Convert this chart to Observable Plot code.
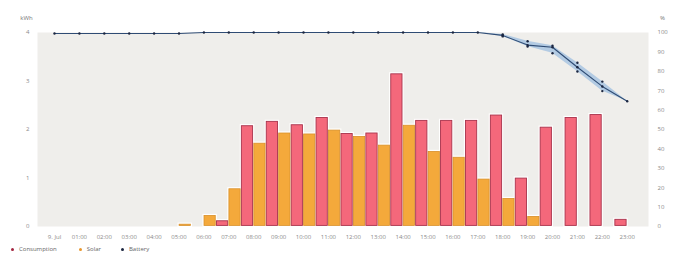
<!DOCTYPE html>
<html>
<head>
<meta charset="utf-8">
<script src="https://cdn.jsdelivr.net/npm/d3@7"></script>
<script src="https://cdn.jsdelivr.net/npm/@observablehq/plot@0.6"></script>
<style>
  html, body { margin: 0; padding: 0; background: #fff; }
  body { width: 681px; height: 254px; overflow: hidden; font-family: "Open Sans", "DejaVu Sans", sans-serif; }
  #legend { height: 10px; display: flex; align-items: center; font-size: 6px; color: #666; padding-left: 11px; }
  #legend span.item { display: inline-flex; align-items: center; }
  #legend span.dot { width: 3px; height: 3px; border-radius: 50%; display: inline-block; margin-right: 5px; }
</style>
</head>
<body>
<div id="chart"></div>
<div id="legend"></div>
<script>
const hours = d3.range(24);
const tickLabels = ["9. Jul","01:00","02:00","03:00","04:00","05:00","06:00","07:00","08:00","09:00","10:00","11:00","12:00","13:00","14:00","15:00","16:00","17:00","18:00","19:00","20:00","21:00","22:00","23:00"];
const consumption = [0,0,0,0,0,0,0,0.12,2.08,2.17,2.10,2.25,1.92,1.93,3.15,2.19,2.19,2.19,2.30,1.00,2.05,2.25,2.31,0.15];
const solar = [0,0,0,0,0,0.05,0.23,0.78,1.72,1.93,1.91,1.99,1.86,1.68,2.09,1.55,1.43,0.98,0.58,0.21,0,0,0,0];
const batteryAvg = [99.5,99.5,99.5,99.5,99.5,99.5,100,100,100,100,100,100,100,100,100,100,100,100,98.5,93.5,92.4,82.1,72.2,64.6];
const batteryMax = [99.5,99.5,99.5,99.5,99.5,99.5,100,100,100,100,100,100,100,100,100,100,100,100,99,95.5,93.2,84.4,74.7,64.6];
const batteryMin = [99.5,99.5,99.5,99.5,99.5,99.5,100,100,100,100,100,100,100,100,100,100,100,100,98,92.8,89.3,79.9,69.8,64.6];
const seriesNames = ["Consumption","Solar","Battery"];
const seriesColors = ["#a3243f","#e8962c","#1b2640"];

const consRows = hours.map(h => ({h, v: consumption[h]})).filter(d => d.v > 0);
const solarRows = hours.map(h => ({h, v: solar[h]})).filter(d => d.v > 0);
const batRows = hours.map(h => ({h, avg: batteryAvg[h], min: batteryMin[h], max: batteryMax[h]}));
const batDots = [];
batRows.forEach(d => {
  batDots.push({h: d.h, p: d.avg});
  if (d.min !== d.avg) batDots.push({h: d.h, p: d.min});
  if (d.max !== d.avg) batDots.push({h: d.h, p: d.max});
});
const pct = p => p * 4 / 100;

const plot = Plot.plot({
  width: 681,
  height: 244,
  marginLeft: 37,
  marginRight: 33,
  marginTop: 32,
  marginBottom: 18,
  style: {fontFamily: "'Open Sans', 'DejaVu Sans', sans-serif", background: "white", overflow: "visible"},
  x: {type: "linear", domain: [-0.683, 23.855]},
  y: {domain: [0, 4]},
  marks: [
    Plot.frame({fill: "#efeeeb", stroke: null}),
    Plot.rectY(consRows, {x1: d => d.h - 0.5, x2: d => d.h, y1: 0, y2: "v", fill: "white", stroke: "white", strokeWidth: 2}),
    Plot.rectY(solarRows, {x1: d => d.h, x2: d => d.h + 0.5, y1: 0, y2: "v", fill: "white", stroke: "white", strokeWidth: 2}),
    Plot.rectY(consRows, {x1: d => d.h - 0.5, x2: d => d.h, y1: 0, y2: "v", fill: "#f4687b", stroke: "#a8324b", strokeWidth: 0.9, inset: 0.6}),
    Plot.rectY(solarRows, {x1: d => d.h, x2: d => d.h + 0.5, y1: 0, y2: "v", fill: "#f4a93b", stroke: "#d9902a", strokeWidth: 0.8, inset: 0.6}),
    Plot.areaY(batRows, {x: "h", y1: d => pct(d.min), y2: d => pct(d.max), fill: "#9fbfe0", fillOpacity: 0.75, curve: "linear"}),
    Plot.lineY(batRows, {x: "h", y: d => pct(d.avg), stroke: "#2f4c74", strokeWidth: 1.1}),
    Plot.dot(batDots, {x: "h", y: d => pct(d.p), r: 1.2, fill: "#1b2640", stroke: null}),
    Plot.axisX({ticks: hours, tickFormat: i => tickLabels[i], tickSize: 0, tickPadding: 8, fontSize: 6, fill: "#8a8a8a", label: null}),
    Plot.axisY({ticks: [0,1,2,3,4], tickFormat: d => d, tickSize: 0, tickPadding: 8, fontSize: 6, fill: "#8a8a8a", label: null}),
    Plot.axisY({anchor: "right", ticks: d3.range(0, 101, 10).map(pct), tickFormat: d => Math.round(d * 25), tickSize: 0, tickPadding: 9, fontSize: 6, fill: "#8a8a8a", label: null}),
    Plot.text(["kWh"], {frameAnchor: "top-left", dx: -11, dy: -17, text: d => d, fontSize: 6, fill: "#777", textAnchor: "middle"}),
    Plot.text(["%"], {frameAnchor: "top-right", dx: 14, dy: -17, text: d => d, fontSize: 6, fill: "#777", textAnchor: "middle"})
  ]
});
document.getElementById("chart").appendChild(plot);

const legend = document.getElementById("legend");
const gaps = [22, 20, 0];
seriesNames.forEach((name, i) => {
  const item = document.createElement("span");
  item.className = "item";
  item.style.marginRight = gaps[i] + "px";
  const dot = document.createElement("span");
  dot.className = "dot";
  dot.style.background = seriesColors[i];
  item.appendChild(dot);
  item.appendChild(document.createTextNode(name));
  legend.appendChild(item);
});
</script>
</body>
</html>
